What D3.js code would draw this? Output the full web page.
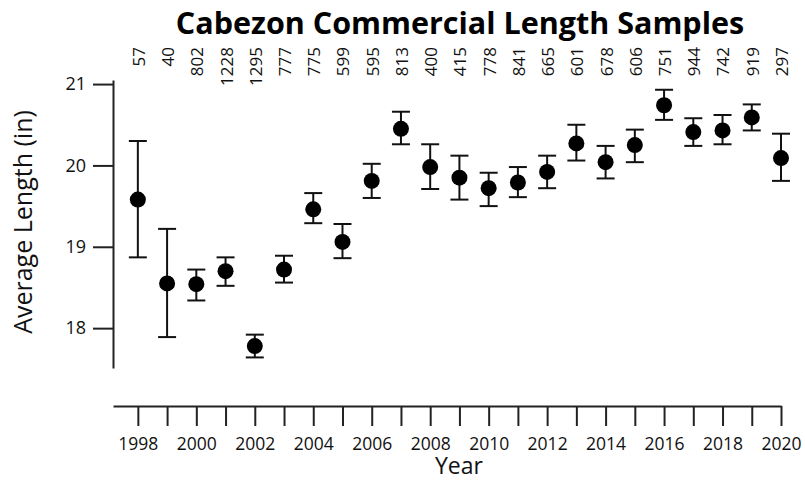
<!DOCTYPE html>
<html>
<head>
<meta charset="utf-8">
<script src="https://cdn.jsdelivr.net/npm/d3@7"></script>
<style>
  html, body { margin: 0; padding: 0; background: #fff; }
  svg { display: block; font-family: "Open Sans", "Noto Sans", sans-serif; }
</style>
</head>
<body>
<svg id="chart" width="805" height="481"></svg>
<script>
// Cabezon commercial samples: mean length per year with error bars and sample counts
const years   = [1998, 1999, 2000, 2001, 2002, 2003, 2004, 2005, 2006, 2007, 2008, 2009,
                 2010, 2011, 2012, 2013, 2014, 2015, 2016, 2017, 2018, 2019, 2020];
const means   = [19.58, 18.55, 18.54, 18.70, 17.78, 18.72, 19.46, 19.06, 19.81, 20.45, 19.98, 19.85,
                 19.72, 19.79, 19.92, 20.27, 20.04, 20.25, 20.74, 20.41, 20.43, 20.59, 20.09];
const upper   = [20.30, 19.22, 18.72, 18.87, 17.92, 18.89, 19.66, 19.28, 20.02, 20.66, 20.26, 20.12,
                 19.91, 19.98, 20.12, 20.50, 20.24, 20.44, 20.93, 20.58, 20.62, 20.75, 20.39];
const lower   = [18.87, 17.89, 18.34, 18.52, 17.64, 18.56, 19.29, 18.86, 19.60, 20.26, 19.71, 19.58,
                 19.50, 19.61, 19.72, 20.06, 19.84, 20.04, 20.56, 20.24, 20.26, 20.43, 19.81];
const counts  = [57, 40, 802, 1228, 1295, 777, 775, 599, 595, 813, 400, 415,
                 778, 841, 665, 601, 678, 606, 751, 944, 742, 919, 297];
const yTicks  = [18, 19, 20, 21];

const data = years.map((yr, i) => ({ year: yr, mean: means[i], hi: upper[i], lo: lower[i], n: counts[i] }));

const svg = d3.select("#chart");
const ink = "#111";
const axisInk = "#222";

const x = d3.scaleLinear().domain([1997.15, 2020]).range([113, 781]);
const y = d3.scaleLinear().domain([17.51, 21.05]).range([368, 80]);

// Title
svg.append("text")
  .attr("x", 460).attr("y", 34)
  .attr("text-anchor", "middle")
  .attr("font-size", 30.5).attr("font-weight", 700)
  .attr("fill", "#000")
  .text("Cabezon Commercial Length Samples");

// Y axis
const yAxis = svg.append("g")
  .attr("transform", "translate(113,0)")
  .call(d3.axisLeft(y).tickValues(yTicks).tickFormat(d3.format("d")).tickSize(20).tickSizeOuter(0).tickPadding(7));
yAxis.select(".domain").attr("stroke", axisInk).attr("stroke-width", 2);
yAxis.selectAll(".tick line").attr("stroke", axisInk).attr("stroke-width", 2);
yAxis.selectAll(".tick text").attr("font-size", 18).attr("fill", ink).attr("font-family", "Open Sans");

// X axis (separate, below the plot)
const xAxis = svg.append("g")
  .attr("transform", "translate(0,406)")
  .call(d3.axisBottom(x).tickValues(years)
    .tickFormat(d => d % 2 === 0 ? String(d) : "")
    .tickSize(20).tickSizeOuter(0).tickPadding(12));
xAxis.select(".domain").attr("stroke", axisInk).attr("stroke-width", 2);
xAxis.selectAll(".tick line").attr("stroke", axisInk).attr("stroke-width", 2);
xAxis.selectAll(".tick text").attr("font-size", 17.5).attr("fill", ink).attr("font-family", "Open Sans");

// Axis titles
svg.append("text")
  .attr("x", 459).attr("y", 474)
  .attr("text-anchor", "middle")
  .attr("font-size", 23).attr("fill", ink)
  .text("Year");

svg.append("text")
  .attr("transform", "translate(32,222) rotate(-90)")
  .attr("text-anchor", "middle")
  .attr("font-size", 25).attr("fill", ink)
  .text("Average Length (in)");

// Sample counts along the top, rotated
svg.append("g").selectAll("text")
  .data(data).join("text")
  .attr("transform", d => `translate(${x(d.year) + 1},47) rotate(-90)`)
  .attr("text-anchor", "end")
  .attr("dy", "0.35em")
  .attr("font-size", 17).attr("fill", ink)
  .text(d => d.n);

// Error bars
const capHalf = 9;
const bars = svg.append("g").attr("stroke", ink).attr("stroke-width", 2).attr("fill", "none");
bars.selectAll("line.v").data(data).join("line").attr("class", "v")
  .attr("x1", d => x(d.year)).attr("x2", d => x(d.year))
  .attr("y1", d => y(d.hi)).attr("y2", d => y(d.lo));
bars.selectAll("line.top").data(data).join("line").attr("class", "top")
  .attr("x1", d => x(d.year) - capHalf).attr("x2", d => x(d.year) + capHalf)
  .attr("y1", d => y(d.hi)).attr("y2", d => y(d.hi));
bars.selectAll("line.bot").data(data).join("line").attr("class", "bot")
  .attr("x1", d => x(d.year) - capHalf).attr("x2", d => x(d.year) + capHalf)
  .attr("y1", d => y(d.lo)).attr("y2", d => y(d.lo));

// Mean markers
svg.append("g").selectAll("circle")
  .data(data).join("circle")
  .attr("cx", d => x(d.year)).attr("cy", d => y(d.mean))
  .attr("r", 8).attr("fill", "#000");
</script>
</body>
</html>
